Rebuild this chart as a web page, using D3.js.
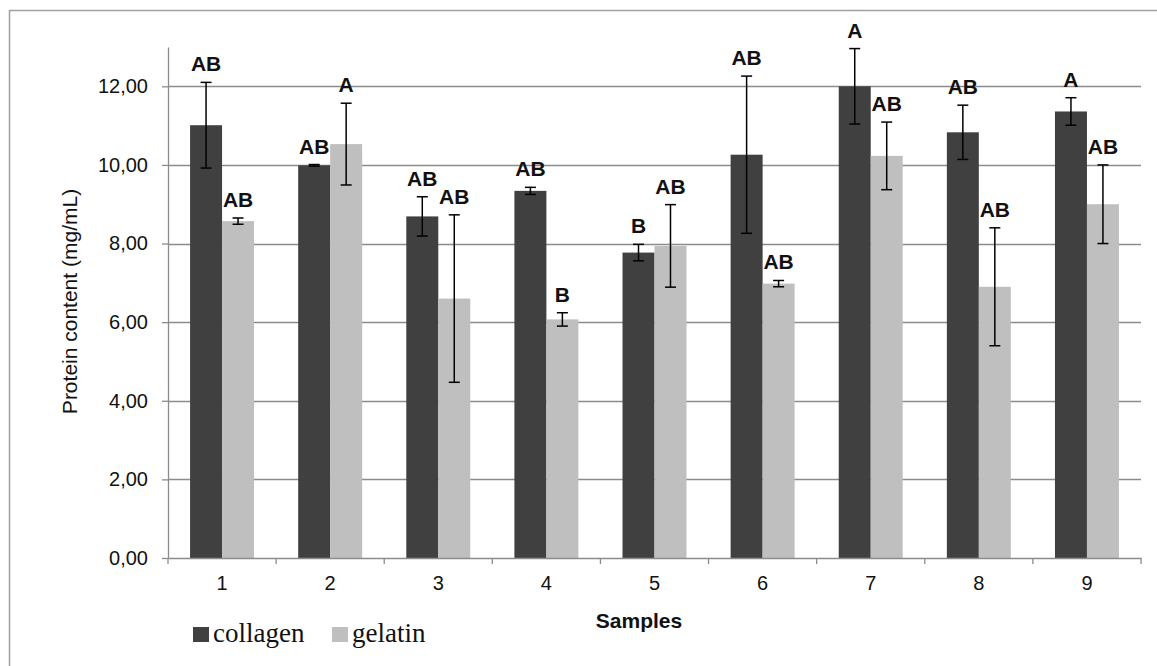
<!DOCTYPE html>
<html>
<head>
<meta charset="utf-8">
<script src="https://cdn.jsdelivr.net/npm/d3@7/dist/d3.min.js"></script>
<style>
  html, body { margin: 0; padding: 0; background: #fff; }
  svg { display: block; }
  .sans { font-family: "Liberation Sans", Arial, Helvetica, sans-serif; }
  .serif { font-family: "Liberation Serif", "Times New Roman", "DejaVu Serif", "Noto Serif", serif; }
</style>
</head>
<body>
<svg id="chart" width="1157" height="666"></svg>
<script>
// ---- data ----
const categories = ["1", "2", "3", "4", "5", "6", "7", "8", "9"];
const seriesNames = ["collagen", "gelatin"];
const collagen = [11.01, 9.99, 8.69, 9.34, 7.77, 10.26, 12.00, 10.83, 11.36];
const collagenErr = [1.09, 0.02, 0.50, 0.09, 0.21, 2.00, 0.96, 0.69, 0.35];
const gelatin = [8.57, 10.53, 6.60, 6.07, 7.94, 6.98, 10.23, 6.90, 9.00];
const gelatinErr = [0.08, 1.04, 2.13, 0.17, 1.05, 0.08, 0.86, 1.50, 1.00];
const collagenLetters = ["AB", "AB", "AB", "AB", "B", "AB", "A", "AB", "A"];
const gelatinLetters = ["AB", "A", "AB", "B", "AB", "AB", "AB", "AB", "AB"];
const yTicks = [0, 2, 4, 6, 8, 10, 12];
const yMax = 13;
const yTitle = "Protein content (mg/mL)";
const xTitle = "Samples";
const colors = { collagen: "#404040", gelatin: "#bfbfbf" };

// ---- layout ----
const svg = d3.select("#chart");
const plotLeft = 168, plotRight = 1141, plotTop = 47, plotBottom = 558;

// outer frame (only top and left visible in reference)
svg.append("rect")
  .attr("x", 9.5).attr("y", 10.5)
  .attr("width", 1160).attr("height", 670)
  .attr("fill", "none").attr("stroke", "#a0a0a0").attr("stroke-width", 1.5);

const y = d3.scaleLinear().domain([0, yMax]).range([plotBottom, plotTop]);
const x0 = d3.scaleBand().domain(categories).range([plotLeft, plotRight]).padding(0);
const x1 = d3.scaleBand().domain(seriesNames).range([0, x0.bandwidth()])
  .paddingInner(0).paddingOuter(0.69);

// gridlines
svg.append("g").selectAll("line")
  .data(yTicks.filter(d => d > 0))
  .join("line")
  .attr("x1", plotLeft).attr("x2", plotRight)
  .attr("y1", d => Math.round(y(d)) + 0.5).attr("y2", d => Math.round(y(d)) + 0.5)
  .attr("stroke", "#8c8c8c").attr("stroke-width", 1.3);

// y axis
const yAxis = d3.axisLeft(y).tickValues(yTicks)
  .tickFormat(d => d3.format(".2f")(d).replace(".", ","))
  .tickSize(6).tickSizeOuter(0).tickPadding(14);
const gy = svg.append("g").attr("transform", `translate(${plotLeft},0)`).call(yAxis);
gy.attr("font-family", null).attr("font-size", null);
gy.select(".domain").attr("stroke", "#8c8c8c").attr("stroke-width", 1.3);
gy.selectAll(".tick line").attr("stroke", "#8c8c8c").attr("stroke-width", 1.3);
gy.selectAll(".tick text").attr("class", "sans")
  .style("font-size", "20px").attr("fill", "#111");

// bars
const rows = categories.map((c, i) => ({
  cat: c,
  items: [
    { s: "collagen", v: collagen[i], e: collagenErr[i], l: collagenLetters[i] },
    { s: "gelatin", v: gelatin[i], e: gelatinErr[i], l: gelatinLetters[i] }
  ]
}));

const groups = svg.append("g").selectAll("g")
  .data(rows).join("g")
  .attr("transform", d => `translate(${x0(d.cat)},0)`);

groups.selectAll("rect")
  .data(d => d.items).join("rect")
  .attr("x", d => x1(d.s))
  .attr("y", d => y(d.v))
  .attr("width", x1.bandwidth())
  .attr("height", d => y(0) - y(d.v))
  .attr("fill", d => colors[d.s]);

// x axis (drawn after bars)
const xAxis = d3.axisBottom(x0).tickSize(0).tickSizeOuter(0).tickPadding(18);
const gx = svg.append("g").attr("transform", `translate(0,${plotBottom})`).call(xAxis);
gx.attr("font-family", null).attr("font-size", null);
gx.select(".domain").attr("stroke", "#8c8c8c").attr("stroke-width", 1.3);
gx.selectAll(".tick text").attr("class", "sans")
  .style("font-size", "20px").attr("fill", "#111");
// category boundary tick marks
const bounds = categories.map(c => x0(c)).concat([x0(categories[categories.length - 1]) + x0.bandwidth()]);
svg.append("g").selectAll("line").data(bounds).join("line")
  .attr("x1", d => d).attr("x2", d => d)
  .attr("y1", plotBottom).attr("y2", plotBottom + 6)
  .attr("stroke", "#8c8c8c").attr("stroke-width", 1.3);

// error bars
const capW = 11;
const eb = groups.selectAll("g.err").data(d => d.items).join("g").attr("class", "err");
eb.append("line")
  .attr("x1", d => x1(d.s) + x1.bandwidth() / 2).attr("x2", d => x1(d.s) + x1.bandwidth() / 2)
  .attr("y1", d => y(d.v + d.e)).attr("y2", d => y(d.v - d.e))
  .attr("stroke", "#000").attr("stroke-width", 1.5);
eb.selectAll("line.cap").data(d => [
    { cx: x1(d.s) + x1.bandwidth() / 2, vy: d.v + d.e },
    { cx: x1(d.s) + x1.bandwidth() / 2, vy: d.v - d.e }
  ]).join("line").attr("class", "cap")
  .attr("x1", d => d.cx - capW / 2).attr("x2", d => d.cx + capW / 2)
  .attr("y1", d => y(d.vy)).attr("y2", d => y(d.vy))
  .attr("stroke", "#000").attr("stroke-width", 1.5);

// significance letters
groups.selectAll("text.letter").data(d => d.items).join("text")
  .attr("class", "letter sans")
  .attr("x", d => x1(d.s) + x1.bandwidth() / 2)
  .attr("y", d => y(d.v + d.e) - 11)
  .attr("text-anchor", "middle")
  .style("font-weight", "bold")
  .style("font-size", "21px")
  .attr("fill", "#111")
  .text(d => d.l);

// axis titles
svg.append("text").attr("class", "sans")
  .attr("transform", `translate(77,${(180 + 423) / 2}) rotate(-90)`)
  .attr("text-anchor", "middle")
  .style("font-size", "21px").attr("fill", "#111")
  .text(yTitle);

svg.append("text").attr("class", "sans")
  .attr("x", 639).attr("y", 628)
  .attr("text-anchor", "middle")
  .style("font-weight", "bold")
  .style("font-size", "21px").attr("fill", "#111")
  .text(xTitle);

// legend
const legendX = [193, 332];
const leg = svg.append("g").selectAll("g").data(seriesNames).join("g")
  .attr("transform", (d, i) => `translate(${legendX[i]},627)`);
leg.append("rect").attr("width", 16).attr("height", 15).attr("fill", d => colors[d]);
leg.append("text").attr("class", "serif")
  .attr("x", 20).attr("y", 14.5)
  .style("font-size", "27px").attr("fill", "#111")
  .text(d => d);
</script>
</body>
</html>
